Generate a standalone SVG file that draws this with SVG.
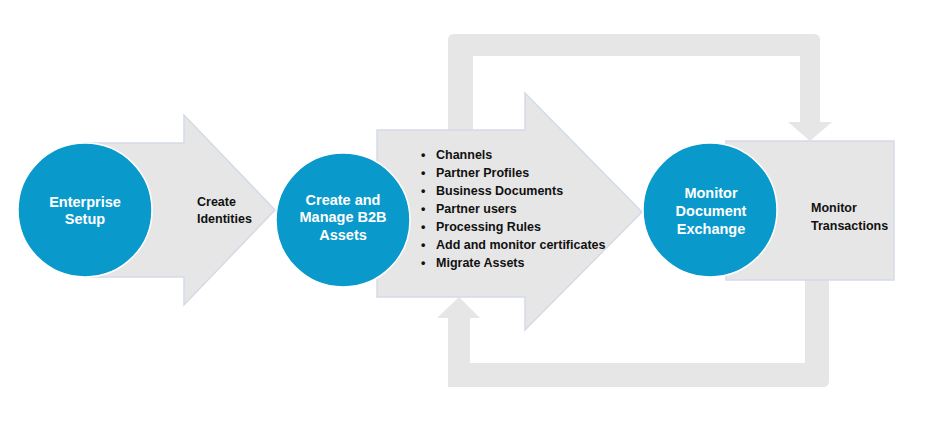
<svg xmlns="http://www.w3.org/2000/svg" width="932" height="423" viewBox="0 0 932 423">
<style>
.loop{fill:#E6E6E6;}
.shape{fill:#E6E6E6;stroke:#D3DAE8;stroke-width:1.5;}
.circ{fill:#0A99CB;stroke:#FFFFFF;stroke-width:1.5;}
.ct{font-family:"Liberation Sans",Arial,sans-serif;font-weight:bold;font-size:14.5px;fill:#FFFFFF;text-anchor:middle;}
.lt{font-family:"Liberation Sans",Arial,sans-serif;font-weight:bold;font-size:12.5px;fill:#111111;}
</style>
<rect width="932" height="423" fill="#FFFFFF"/>
<g id="connectors">
  <path class="loop" d="M448,130 L448,40 Q448,34 454,34 L814,34 Q820,34 820,40 L820,122 L832,122 L810,141 L788,122 L800,122 L800,56 L473,56 L473,130 Z"/>
  <path class="loop" d="M805,280 L829,280 L829,381 Q829,387 823,387 L448,387 L448,318 L437,318 L459,297 L480,318 L470,318 L470,363 L805,363 Z"/>
</g>
<g id="arrow1">
  <path class="shape" d="M85,143 L184,143 L184,115 L275,210 L184,305 L184,277 L85,277 Z"/>
  <text class="lt" x="197" y="206">Create</text>
  <text class="lt" x="197" y="223">Identities</text>
</g>
<g id="arrow2">
  <path class="shape" d="M377,130 L525,130 L525,93 L642,212 L525,330 L525,297 L377,297 Z"/>
  <g class="lt">
    <text x="421" y="159">•</text><text x="436" y="159">Channels</text>
    <text x="421" y="177">•</text><text x="436" y="177">Partner Profiles</text>
    <text x="421" y="195">•</text><text x="436" y="195">Business Documents</text>
    <text x="421" y="213">•</text><text x="436" y="213">Partner users</text>
    <text x="421" y="231">•</text><text x="436" y="231">Processing Rules</text>
    <text x="421" y="249">•</text><text x="436" y="249">Add and monitor certificates</text>
    <text x="421" y="267">•</text><text x="436" y="267">Migrate Assets</text>
  </g>
</g>
<g id="box3">
  <rect class="shape" x="726" y="141" width="168" height="139"/>
  <text class="lt" x="811" y="212">Monitor</text>
  <text class="lt" x="811" y="230">Transactions</text>
</g>
<g id="enterprise-setup">
  <circle class="circ" cx="85" cy="210" r="67"/>
  <text class="ct" x="85" y="207">Enterprise</text>
  <text class="ct" x="85" y="224">Setup</text>
</g>
<g id="create-manage">
  <circle class="circ" cx="343" cy="220" r="67"/>
  <text class="ct" x="343" y="205">Create and</text>
  <text class="ct" x="343" y="222">Manage B2B</text>
  <text class="ct" x="343" y="240">Assets</text>
</g>
<g id="monitor-exchange">
  <circle class="circ" cx="710" cy="210" r="67"/>
  <text class="ct" x="711" y="198">Monitor</text>
  <text class="ct" x="711" y="216">Document</text>
  <text class="ct" x="711" y="234">Exchange</text>
</g>
</svg>
